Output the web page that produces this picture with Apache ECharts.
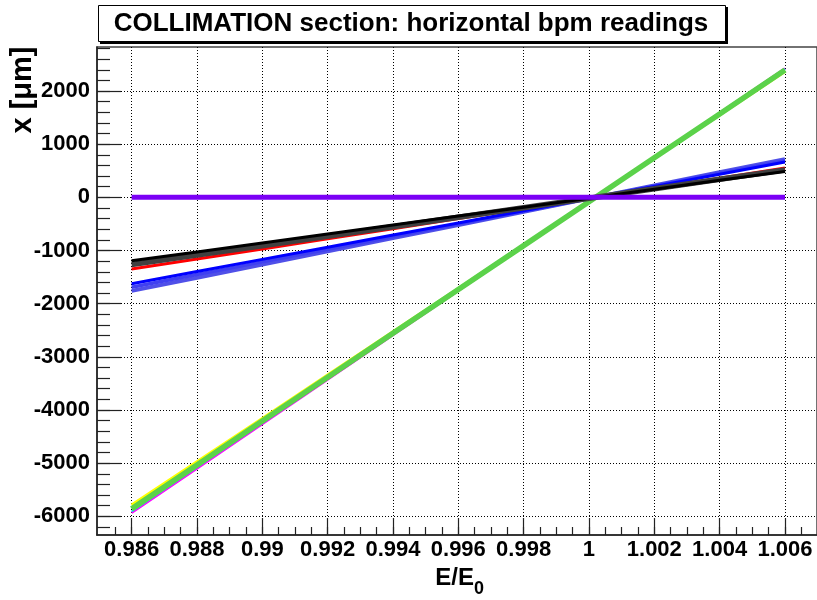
<!DOCTYPE html>
<html>
<head>
<meta charset="utf-8">
<script src="https://cdn.jsdelivr.net/npm/echarts@6/dist/echarts.min.js"></script>
<style>
  html, body { margin: 0; padding: 0; background: #fff; }
  #chart { width: 817px; height: 600px; }
</style>
</head>
<body>
<div id="chart"></div>
<script>
// Beam energy offsets (E/E0) at which the bpm readings are sampled
const energy = [0.986, 0.988, 0.990, 0.992, 0.994, 0.996, 0.998, 1.000, 1.002, 1.004, 1.006];

// Horizontal bpm readings, x [um]
const steepYellow  = [-5790, -4975, -4159, -3344, -2528, -1713, -897, -82, 734, 1549, 2365];
const steepMagenta = [-5935, -5099, -4263, -3427, -2591, -1756, -919, -84, 753, 1588, 2424];
const steepCyan    = [-5910, -5078, -4245, -3413, -2580, -1748, -915, -83, 749, 1582, 2414];
const steepGreen   = [-5860, -5035, -4209, -3384, -2558, -1733, -908, -83, 743, 1568, 2394];
const flatRed      = [-1350, -1160, -970, -780, -589, -399, -209, -19, 171, 361, 551];
const blueA        = [-1625, -1396, -1167, -938, -709, -481, -252, -23, 206, 435, 664];
const blueB        = [-1690, -1452, -1214, -976, -738, -500, -262, -24, 214, 452, 690];
const blueC        = [-1760, -1512, -1264, -1016, -768, -521, -273, -25, 223, 471, 719];
const flatGray     = [-1265, -1087, -909, -731, -552, -374, -196, -18, 160, 339, 517];
const flatBlack    = [-1195, -1027, -858, -690, -522, -353, -185, -17, 152, 320, 488];
const reference    = [0, 0, 0, 0, 0, 0, 0, 0, 0, 0, 0];

// Axis tick labels
const xMajor = [0.986, 0.988, 0.99, 0.992, 0.994, 0.996, 0.998, 1, 1.002, 1.004, 1.006];
const yMajor = [-6000, -5000, -4000, -3000, -2000, -1000, 0, 1000, 2000];

const X_MIN = 0.98494, X_MAX = 1.00698;
const Y_MIN = -6352, Y_MAX = 2828;

// minor tick positions between the labelled ones
const xMinor = [];
for (let i = 0; i <= 42; i++) {
  const v = Math.round((0.9855 + i * 0.0005) * 1e5) / 1e5;
  if (v > X_MIN && v < X_MAX) xMinor.push(v);
}
const yMinor = [];
for (let v = -6200; v <= 2800; v += 200) yMinor.push(v);

const FONT = '"Liberation Sans", Arial, Helvetica, sans-serif';

function pairs(ys) { return energy.map((e, i) => [e, ys[i]]); }
function line(name, ys, color, width, z) {
  return {
    name: name, type: 'line', data: pairs(ys), showSymbol: false, symbol: 'none',
    lineStyle: { color: color, width: width }, z: z, animation: false, silent: true
  };
}

const chart = echarts.init(document.getElementById('chart'), null, { renderer: 'canvas' });

const option = {
  animation: false,
  backgroundColor: '#ffffff',
  grid: {
    left: 97, right: -2, top: 47, bottom: 65,
    show: true, borderColor: '#444', borderWidth: 1.5, backgroundColor: 'transparent'
  },
  xAxis: [{
    type: 'value', min: X_MIN, max: X_MAX, position: 'bottom',
    axisLine: { show: true, onZero: false, lineStyle: { color: '#222', width: 1.5 } },
    axisTick: { show: true, inside: true, length: 17, customValues: xMajor, lineStyle: { color: '#222', width: 1.2 } },
    axisLabel: {
      customValues: xMajor, margin: 4, color: '#000',
      fontFamily: FONT, fontWeight: 'bold', fontSize: 22,
      formatter: v => String(v)
    },
    splitLine: { show: true, lineStyle: { color: '#000', width: 1, type: [1, 2] } }
  }, {
    type: 'value', min: X_MIN, max: X_MAX, position: 'bottom',
    axisLine: { show: false, onZero: false },
    axisTick: { show: true, inside: true, length: 8, customValues: xMinor, lineStyle: { color: '#222', width: 1.2 } },
    axisLabel: { show: false },
    splitLine: { show: false }
  }],
  yAxis: [{
    type: 'value', min: Y_MIN, max: Y_MAX, position: 'left',
    axisLine: { show: true, onZero: false, lineStyle: { color: '#222', width: 1.5 } },
    axisTick: { show: true, inside: true, length: 24, customValues: yMajor, lineStyle: { color: '#222', width: 1.2 } },
    axisLabel: {
      customValues: yMajor, margin: 7, color: '#000',
      fontFamily: FONT, fontWeight: 'bold', fontSize: 22,
      formatter: v => String(v)
    },
    splitLine: { show: true, lineStyle: { color: '#000', width: 1, type: [1, 2] } }
  }, {
    type: 'value', min: Y_MIN, max: Y_MAX, position: 'left',
    axisLine: { show: false, onZero: false },
    axisTick: { show: true, inside: true, length: 13, customValues: yMinor, lineStyle: { color: '#222', width: 1.2 } },
    axisLabel: { show: false },
    splitLine: { show: false }
  }],
  series: [
    line('bpm yellow', steepYellow, '#ffff00', 3, 2),
    line('bpm magenta', steepMagenta, '#ff00ff', 2.5, 2),
    line('bpm cyan', steepCyan, '#00e8f0', 2, 2),
    line('bpm green', steepGreen, '#5bd24a', 5.5, 3),
    line('bpm red', flatRed, '#ff0000', 3, 2),
    line('bpm blue C', blueC, '#5050e8', 4, 2),
    line('bpm blue B', blueB, '#4040f0', 3.5, 2),
    line('bpm blue A', blueA, '#0000ff', 3, 2),
    line('bpm gray', flatGray, '#404040', 5.5, 3),
    line('bpm black', flatBlack, '#000000', 3, 3),
    line('reference', reference, '#7b00f5', 5, 4)
  ],
  graphic: [
    // title box with its drop shadow
    { type: 'rect', left: 100, top: 7, shape: { width: 628, height: 37 }, style: { fill: '#000' }, z: 100 },
    { type: 'rect', left: 98, top: 5, shape: { width: 627, height: 36 }, style: { fill: '#fff', stroke: '#000', lineWidth: 1 }, z: 101 },
    {
      type: 'text', x: 411, y: 24, z: 102,
      style: {
        text: 'COLLIMATION section: horizontal bpm readings',
        fill: '#000', font: 'bold 26px ' + FONT, textAlign: 'center', textVerticalAlign: 'middle'
      }
    },
    // x axis title E/E0
    {
      type: 'text', x: 474, y: 578, z: 102,
      style: { text: 'E/E', fill: '#000', font: 'bold 24px ' + FONT, textAlign: 'right', textVerticalAlign: 'middle' }
    },
    {
      type: 'text', x: 474, y: 589, z: 102,
      style: { text: '0', fill: '#000', font: 'bold 18px ' + FONT, textAlign: 'left', textVerticalAlign: 'middle' }
    },
    // y axis title
    {
      type: 'text', x: 23, y: 90, rotation: Math.PI / 2, z: 102,
      style: { text: 'x [μm]', fill: '#000', font: 'bold 29px ' + FONT, textAlign: 'center', textVerticalAlign: 'middle' }
    }
  ]
};

chart.setOption(option);
</script>
</body>
</html>
